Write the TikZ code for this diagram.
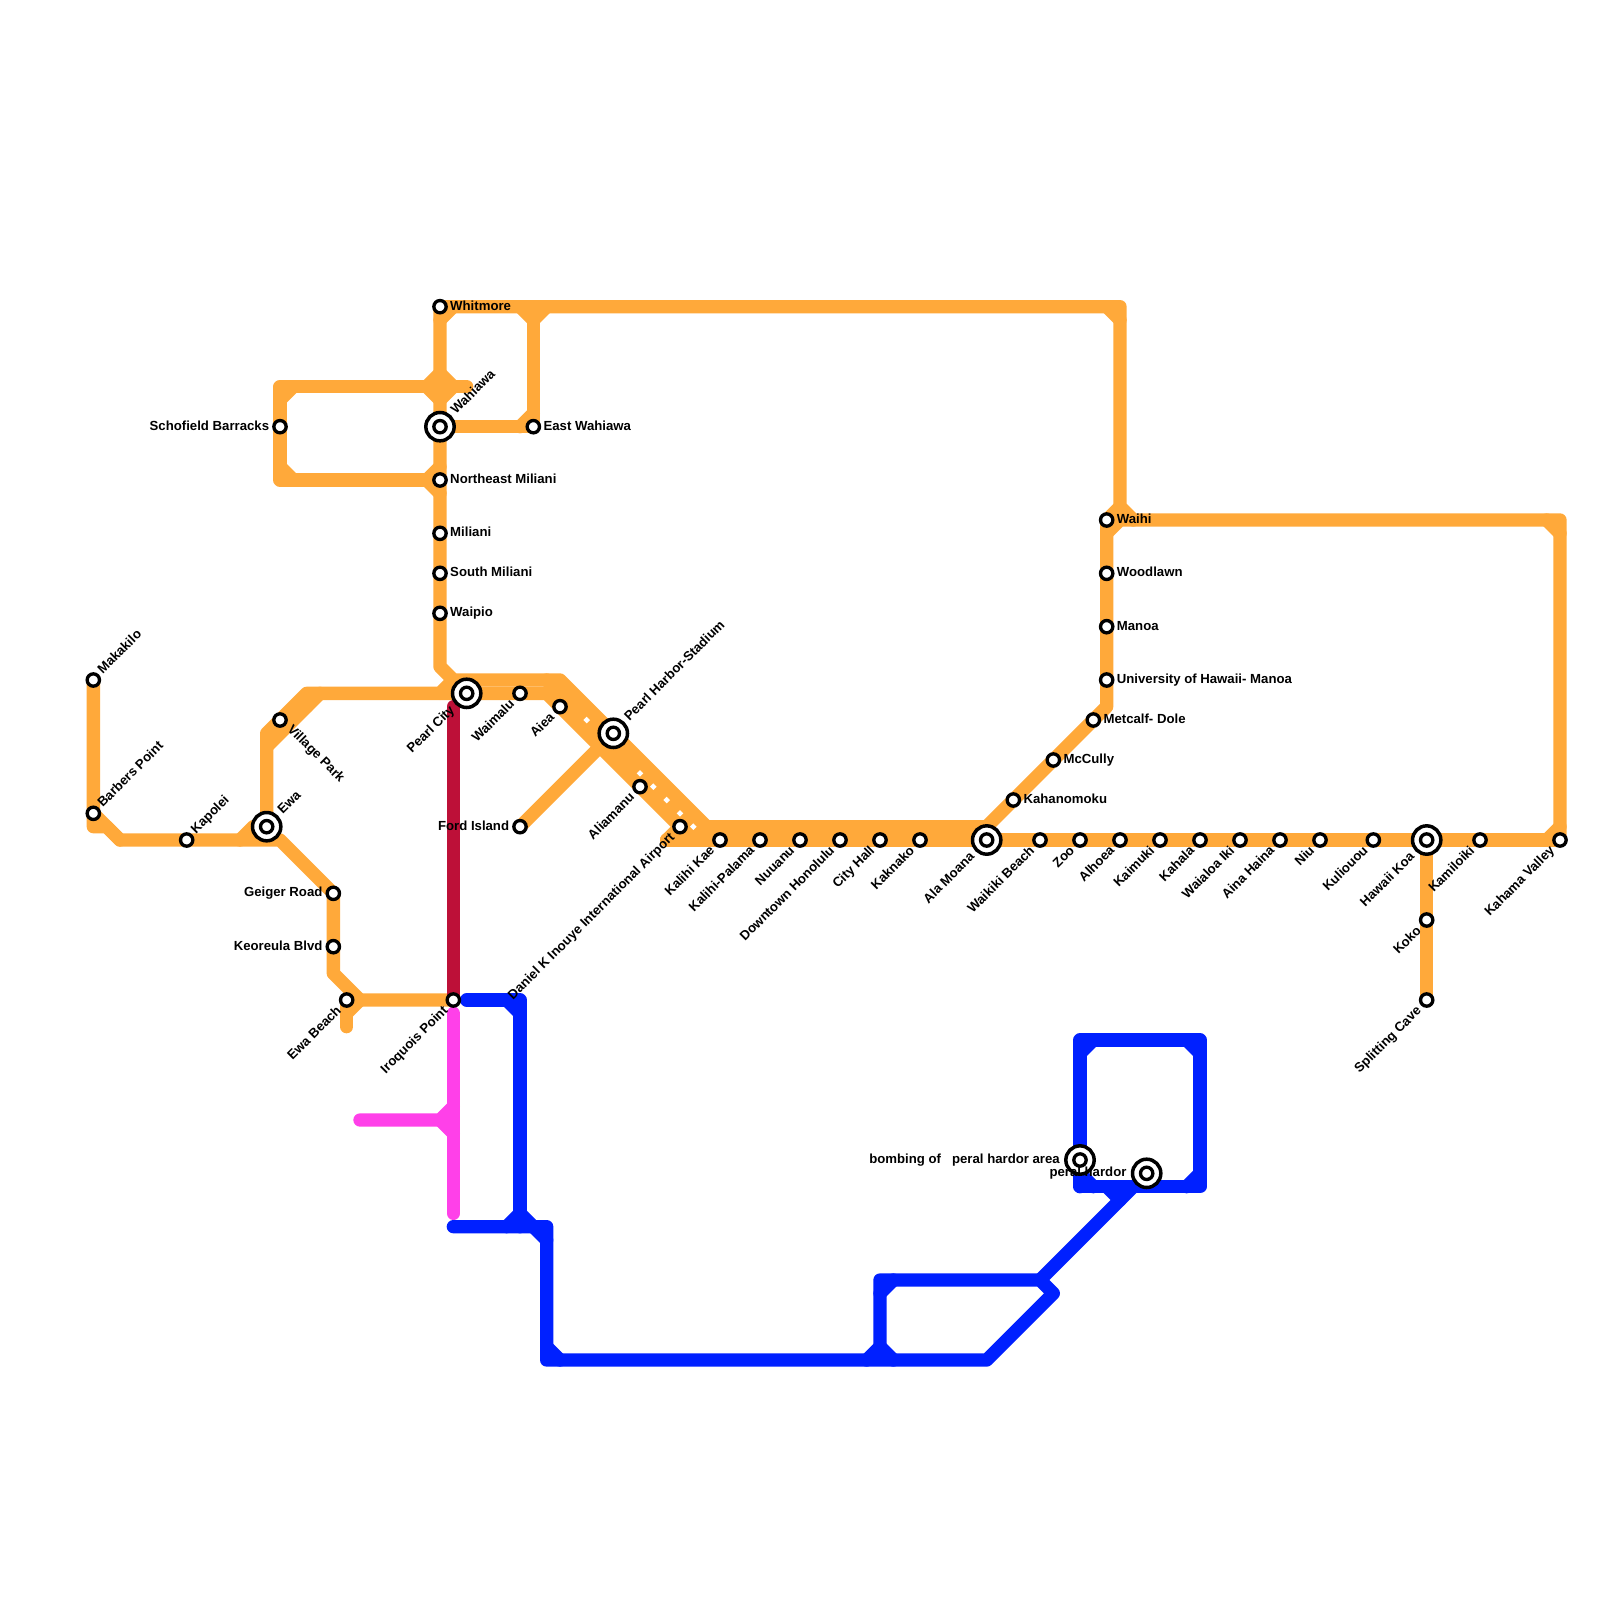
\documentclass[tikz,border=0pt]{standalone}
\usepackage{fontspec}
\setmainfont{Liberation Sans}
\usetikzlibrary{calc}
\pgfdeclarelayer{lines}
\pgfsetlayers{lines,main}
\definecolor{orangeline}{HTML}{FFA93A}
\definecolor{blueline}{HTML}{0020FF}
\definecolor{crimsonline}{HTML}{BD1038}
\definecolor{pinkline}{HTML}{FF40E9}
\tikzset{
  metro/.style={line width=0.4cm,line cap=round,line join=round},
  orangemetro/.style={metro,draw=orangeline},
  bluemetro/.style={metro,draw=blueline},
  crimsonmetro/.style={metro,draw=crimsonline},
  pinkmetro/.style={metro,draw=pinkline},
  smallstop/.style={circle,draw=black,fill=white,line width=0.1cm,minimum size=0.37cm,inner sep=0pt},
  ringstop/.style={circle,draw=black,fill=white,line width=0.105cm,minimum size=0.85cm,inner sep=0pt},
  lab/.style={font=\fontsize{11.25}{13}\selectfont\bfseries,inner sep=0pt,text=black},
}
\newcommand{\mystop}[3]{\node[smallstop] (#1) at (#2,#3) {};}
\newcommand{\myhub}[3]{\node[ringstop] (#1) at (#2,#3) {}; \node[smallstop] (#1-in) at (#2,#3) {};}
\newcommand{\labR}[2]{\node[lab,anchor=base west] (#1-l) at ($(#1)+(0.75,0.25)$) {#2};}
\newcommand{\labL}[2]{\node[lab,anchor=base east] (#1-l) at ($(#1)+(-0.8,0.25)$) {#2};}
\newcommand{\labUR}[2]{\node[lab,anchor=base west,rotate=45] (#1-l) at ($(#1)+(0.7,-0.4)$) {#2};}
\newcommand{\labDL}[2]{\node[lab,anchor=base east,rotate=45] (#1-l) at ($(#1)+(-0.35,0.85)$) {#2};}
\newcommand{\hubUR}[2]{\node[lab,anchor=base west,rotate=45] (#1-l) at ($(#1)+(1.2,-0.87)$) {#2};}
\newcommand{\hubDL}[2]{\node[lab,anchor=base east,rotate=45] (#1-l) at ($(#1)+(-0.85,1.3)$) {#2};}
\begin{document}
\begin{tikzpicture}[x=0.4cm,y=-0.4cm]
\useasboundingbox (0,0) rectangle (120,120);
% stations
\mystop{whitmore}{33}{23}
\mystop{eastw}{40}{32}
\mystop{schofield}{21}{32}
\mystop{nemil}{33}{36}
\mystop{miliani}{33}{40}
\mystop{smil}{33}{43}
\mystop{waipio}{33}{46}
\mystop{makakilo}{7}{51}
\mystop{barbers}{7}{61}
\mystop{kapolei}{14}{63}
\mystop{village}{21}{54}
\mystop{waimalu}{39}{52}
\mystop{aiea}{42}{53}
\mystop{ford}{39}{62}
\mystop{geiger}{25}{67}
\mystop{keoreula}{25}{71}
\mystop{ewabeach}{26}{75}
\mystop{iroquois}{34}{75}
\mystop{aliamanu}{48}{59}
\mystop{airport}{51}{62}
\mystop{kalihikae}{54}{63}
\mystop{kalihipal}{57}{63}
\mystop{nuuanu}{60}{63}
\mystop{downtown}{63}{63}
\mystop{cityhall}{66}{63}
\mystop{kaknako}{69}{63}
\mystop{waikiki}{78}{63}
\mystop{zoo}{81}{63}
\mystop{alhoea}{84}{63}
\mystop{kaimuki}{87}{63}
\mystop{kahala}{90}{63}
\mystop{waialoa}{93}{63}
\mystop{ainahaina}{96}{63}
\mystop{niu}{99}{63}
\mystop{kuliouou}{103}{63}
\mystop{kamiloiki}{111}{63}
\mystop{kahama}{117}{63}
\mystop{koko}{107}{69}
\mystop{splitting}{107}{75}
\mystop{kahanomoku}{76}{60}
\mystop{mccully}{79}{57}
\mystop{metcalf}{82}{54}
\mystop{university}{83}{51}
\mystop{manoa}{83}{47}
\mystop{woodlawn}{83}{43}
\mystop{waihi}{83}{39}
\myhub{wahiawa}{33}{32}
\myhub{ewa}{20}{62}
\myhub{pearlcity}{35}{52}
\myhub{pearlharbor}{46}{55}
\myhub{alamoana}{74}{63}
\myhub{hawaiikoa}{107}{63}
\myhub{bombing}{81}{87}
\myhub{peral}{86}{88}
% lines
\begin{pgfonlayer}{lines}
\fill[white] (0,0) rectangle (120,120);
% orange: main lines
\draw[orangemetro] (whitmore.center) -- (wahiawa.center) -- (nemil.center) -- (miliani.center) -- (smil.center) -- (waipio.center) -- (33,50) -- (34,51) -- (42,51) -- (pearlharbor.center) -- (53,62) -- (74,62) -- (kahanomoku.center) -- (mccully.center) -- (metcalf.center) -- (83,53) -- (university.center) -- (manoa.center) -- (woodlawn.center) -- (waihi.center);
\draw[orangemetro] (whitmore.center) -- (84,23) -- (84,38) -- (85,39) -- (117,39) -- (kahama.center);
\draw[orangemetro] (waihi.center) -- (84,38);
\draw[orangemetro] (83,40) -- (84,39) -- (85,39);
\draw[orangemetro] (33,24) -- (34,23);
\draw[orangemetro] (83,23) -- (84,24);
\draw[orangemetro] (39,23) -- (40,24) -- (41,23);
\draw[orangemetro] (40,23) -- (eastw.center) -- (wahiawa.center);
\draw[orangemetro] (39,32) -- (40,31);
\draw[orangemetro] (116,39) -- (117,40);
\draw[orangemetro] (116,63) -- (117,62);
% orange: Schofield loop
\draw[orangemetro] (35,29) -- (21,29) -- (schofield.center) -- (21,36) -- (nemil.center);
\draw[orangemetro] (21,30) -- (22,29);
\draw[orangemetro] (21,35) -- (22,36);
\draw[orangemetro] (32,29) -- (33,28) -- (34,29) -- (33,30) -- cycle;
\draw[orangemetro] (32,36) -- (33,35);
\draw[orangemetro] (32,36) -- (33,37);
% orange: west
\draw[orangemetro] (makakilo.center) -- (barbers.center) -- (9,63) -- (kapolei.center) -- (21,63) -- (geiger.center) -- (keoreula.center) -- (25,73) -- (27,75) -- (iroquois.center);
\draw[orangemetro] (barbers.center) -- (7,62) -- (8,62) -- (9,63);
\draw[orangemetro] (18,63) -- (19,62) -- (ewa.center);
\draw[orangemetro] (ewa.center) -- (20,55) -- (23,52) -- (33,52) -- (34,51);
\draw[orangemetro] (20,56) -- (24,52);
\draw[orangemetro] (21,54) -- (23,53);
\draw[orangemetro] (33,52) -- (pearlcity.center) -- (waimalu.center) -- (41,52) -- (aiea.center) -- (aliamanu.center) -- (airport.center);
\draw[orangemetro] (ewabeach.center) -- (26,77);
\draw[orangemetro] (26,76) -- (27,75);
\draw[orangemetro] (ewabeach.center) -- (27,75);
\draw[orangemetro] (ford.center) -- (pearlharbor.center);
% orange: band fill
\draw[orangemetro] (41,51) -- (52,62);
\draw[orangemetro] (50,63) -- (airport.center) -- (53,62);
\draw[orangemetro] (50,63) -- (kalihikae.center) -- (kalihipal.center) -- (nuuanu.center) -- (downtown.center) -- (cityhall.center) -- (kaknako.center) -- (alamoana.center) -- (waikiki.center) -- (zoo.center) -- (alhoea.center) -- (kaimuki.center) -- (kahala.center) -- (waialoa.center) -- (ainahaina.center) -- (niu.center) -- (kuliouou.center) -- (hawaiikoa.center) -- (kamiloiki.center) -- (kahama.center);
\draw[orangemetro] (hawaiikoa.center) -- (koko.center) -- (splitting.center);
\foreach \dx/\dy in {44/54,48/58,49/59,50/60,51/61,52/62}
  \fill[white] (\dx,\dy) +(-0.25,0) -- +(0,-0.25) -- +(0.25,0) -- +(0,0.25) -- cycle;
% crimson and pink
\draw[crimsonmetro] (34,53) -- (iroquois.center);
\coordinate (pinktop) at (34,76);
\draw[pinkmetro] (pinktop) -- (34,91);
\draw[pinkmetro] (27,84) -- (33,84) -- (34,83);
\draw[pinkmetro] (33,84) -- (34,85);
% blue
\draw[bluemetro] (35,75) -- (39,75) -- (39,92);
\draw[bluemetro] (38,75) -- (39,76);
\draw[bluemetro] (34,92) -- (41,92) -- (41,102) -- (74,102) -- (79,97) -- (78,96) -- (66,96) -- (66,102);
\draw[bluemetro] (38,92) -- (39,91) -- (40,92) -- (41,93);
\draw[bluemetro] (41,101) -- (42,102);
\draw[bluemetro] (66,97) -- (67,96);
\draw[bluemetro] (65,102) -- (66,101) -- (67,102);
\draw[bluemetro] (78,96) -- (85,89);
\draw[bluemetro] (81,89) -- (bombing.center) -- (81,78) -- (90,78) -- (90,89) -- (81,89);
\draw[bluemetro] (81,79) -- (82,78);
\draw[bluemetro] (89,78) -- (90,79);
\draw[bluemetro] (81,88) -- (82,89);
\draw[bluemetro] (89,89) -- (90,88);
\draw[bluemetro] (83,89) -- (84,90);
\end{pgfonlayer}
% labels
\labR{whitmore}{Whitmore}
\labR{eastw}{East Wahiawa}
\labR{nemil}{Northeast Miliani}
\labR{miliani}{Miliani}
\labR{smil}{South Miliani}
\labR{waipio}{Waipio}
\labR{waihi}{Waihi}
\labR{woodlawn}{Woodlawn}
\labR{manoa}{Manoa}
\labR{university}{University of Hawaii- Manoa}
\labR{metcalf}{Metcalf- Dole}
\labR{mccully}{McCully}
\labR{kahanomoku}{Kahanomoku}
\labL{schofield}{Schofield Barracks}
\labL{geiger}{Geiger Road}
\labL{keoreula}{Keoreula Blvd}
\labL{ford}{Ford Island}
\node[lab,anchor=base east] (bombing-l) at ($(bombing)+(-1.5,0.25)$) {bombing of\ \ \ peral hardor area};
\node[lab,anchor=base east] (peral-l) at ($(peral)+(-1.5,0.25)$) {peral hardor};
\labUR{makakilo}{Makakilo}
\labUR{barbers}{Barbers Point}
\labUR{kapolei}{Kapolei}
\hubUR{ewa}{Ewa}
\hubUR{wahiawa}{Wahiawa}
\hubUR{pearlharbor}{Pearl Harbor-Stadium}
\node[lab,anchor=base west,rotate=-45] (village-l) at ($(village)+(0.5,0.75)$) {Village Park};
\hubDL{pearlcity}{Pearl City}
\labDL{waimalu}{Waimalu}
\labDL{aiea}{Aiea}
\labDL{aliamanu}{Aliamanu}
\labDL{airport}{Daniel K Inouye International Airport}
\labDL{ewabeach}{Ewa Beach}
\labDL{iroquois}{Iroquois Point}
\labDL{kalihikae}{Kalihi Kae}
\labDL{kalihipal}{Kalihi-Palama}
\labDL{nuuanu}{Nuuanu}
\labDL{downtown}{Downtown Honolulu}
\labDL{cityhall}{City Hall}
\labDL{kaknako}{Kaknako}
\hubDL{alamoana}{Ala Moana}
\labDL{waikiki}{Waikiki Beach}
\labDL{zoo}{Zoo}
\labDL{alhoea}{Alhoea}
\labDL{kaimuki}{Kaimuki}
\labDL{kahala}{Kahala}
\labDL{waialoa}{Waialoa Iki}
\labDL{ainahaina}{Aina Haina}
\labDL{niu}{Niu}
\labDL{kuliouou}{Kuliouou}
\hubDL{hawaiikoa}{Hawaii Koa}
\labDL{kamiloiki}{Kamiloiki}
\labDL{kahama}{Kahama Valley}
\labDL{koko}{Koko}
\labDL{splitting}{Splitting Cave}
\end{tikzpicture}
\end{document}
